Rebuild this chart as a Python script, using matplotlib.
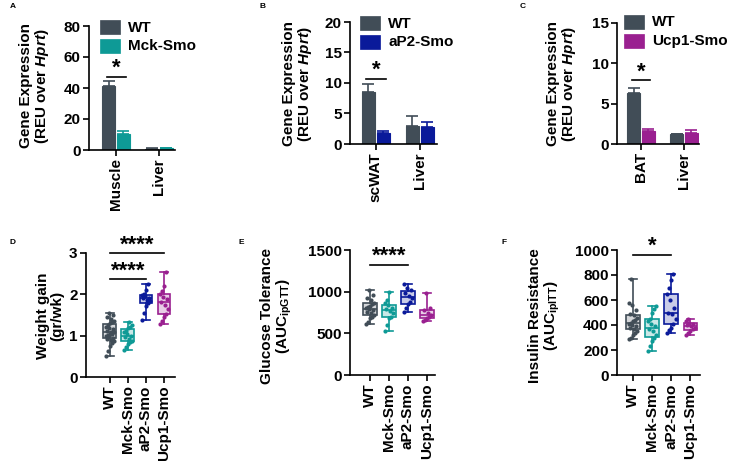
import matplotlib
matplotlib.use("Agg")
import matplotlib.pyplot as plt
from matplotlib.patches import Rectangle
import numpy as np

plt.rcParams['font.family'] = ['Liberation Sans', 'DejaVu Sans']
plt.rcParams['font.weight'] = 'bold'
plt.rcParams['mathtext.fontset'] = 'custom'
plt.rcParams['mathtext.rm'] = 'Liberation Sans:bold'
plt.rcParams['mathtext.it'] = 'Liberation Sans:italic:bold'
plt.rcParams['mathtext.bf'] = 'Liberation Sans:bold'

# ---------------- data ----------------
C_WT = '#414D57'
C_MCK = '#0E9A96'
C_AP2 = '#0A1A9A'
C_UCP = '#9A2090'

# Panel A
a_tissues = ['Muscle', 'Liver']
a_wt = [41.0, 0.8]
a_wt_err = [3.5, 0.5]
a_ko = [10.5, 1.0]
a_ko_err = [2.0, 0.4]
# Panel B
b_tissues = ['scWAT', 'Liver']
b_wt = [8.5, 3.0]
b_wt_err = [1.3, 1.6]
b_ko = [1.8, 2.8]
b_ko_err = [0.3, 0.8]
# Panel C
c_tissues = ['BAT', 'Liver']
c_wt = [6.3, 1.2]
c_wt_err = [0.7, 0.1]
c_ko = [1.6, 1.4]
c_ko_err = [0.2, 0.3]

groups = ['WT', 'Mck-Smo', 'aP2-Smo', 'Ucp1-Smo']
# Panel D: weight gain (gr/wk)
d_wt = [0.50, 0.62, 0.75, 0.82, 0.88, 0.90, 0.92, 0.95, 0.98, 1.00, 1.02, 1.05, 1.05, 1.08,
        1.10, 1.12, 1.15, 1.18, 1.22, 1.25, 1.30, 1.33, 1.35, 1.40, 1.45, 1.50, 1.55]
d_mck = [0.65, 0.72, 0.80, 0.85, 0.88, 0.92, 0.97, 1.00, 1.03, 1.08, 1.12, 1.18, 1.22, 1.27, 1.32]
d_ap2 = [1.37, 1.55, 1.72, 1.80, 1.83, 1.87, 1.90, 1.92, 1.95, 1.98, 2.02, 2.10, 2.25]
d_ucp = [1.28, 1.35, 1.45, 1.52, 1.65, 1.75, 1.82, 1.88, 1.93, 2.00, 2.08, 2.20, 2.55]
# Panel E: glucose tolerance AUC
e_wt = [610, 640, 680, 700, 720, 740, 760, 775, 790, 800, 815, 830, 850, 870, 900, 930, 960, 1020]
e_mck = [530, 600, 680, 700, 740, 770, 790, 810, 840, 860, 900, 1000]
e_ap2 = [760, 800, 850, 880, 920, 950, 990, 1020, 1050, 1090]
e_ucp = [650, 660, 680, 700, 720, 750, 780, 800, 990]
# Panel F: insulin resistance AUC
f_wt = [290, 300, 320, 335, 350, 370, 380, 390, 400, 410, 420, 430, 440, 460, 480, 490, 520,
        560, 580, 765]
f_mck = [195, 230, 270, 300, 320, 350, 370, 390, 410, 430, 450, 500, 530, 550]
f_ap2 = [340, 360, 380, 410, 450, 490, 500, 540, 600, 650, 700, 760, 805]
f_ucp = [320, 340, 355, 370, 380, 390, 400, 410, 420, 435, 445]

# ---------------- figure ----------------
W, H = 731, 461
fig = plt.figure(figsize=(W / 100, H / 100), dpi=100)
FS = 11


def add_ax(l, t, r, b):
    return fig.add_axes([l / W, 1 - b / H, (r - l) / W, (b - t) / H])


def style(ax):
    for s in ['top', 'right']:
        ax.spines[s].set_visible(False)
    for s in ['left', 'bottom']:
        ax.spines[s].set_linewidth(1.2)
    ax.tick_params(width=1.2, length=4, labelsize=FS, pad=2)
    for lab in ax.get_xticklabels() + ax.get_yticklabels():
        lab.set_fontweight('bold')


def ylabel(x, y, txt):
    fig.text(x / W, 1 - y / H, txt, rotation=90, ha='center', va='center',
             multialignment='center', fontsize=FS, fontweight='bold', linespacing=1.05)


def letter(x, y, t):
    fig.text(x / W, 1 - y / H, t, fontsize=6, fontweight='bold', ha='left', va='top')


def sig(ax, x1, x2, y, txt, dy):
    ax.plot([x1, x2], [y, y], color='black', lw=1.2, clip_on=False)
    ax.text((x1 + x2) / 2, y + dy, txt, ha='center', va='center', fontsize=16,
            fontweight='bold', clip_on=False)


def bar_panel(rect, xlim, ylim, yticks, tissues, wt, wte, ko, koe, kocolor, kolabel,
              leg_xy, star_y, star_dy):
    ax = add_ax(*rect)
    x = np.arange(len(tissues))
    off, bw = 0.17, 0.30
    ax.bar(x - off, wt, bw, color=C_WT, edgecolor=C_WT, lw=0.8, label='WT', zorder=2)
    ax.bar(x + off, ko, bw, color=kocolor, edgecolor=kocolor, lw=0.8, label=kolabel, zorder=2)
    ax.errorbar(x - off, wt, yerr=[np.zeros(len(wt)), wte], fmt='none', ecolor=C_WT,
                elinewidth=1.2, capsize=4, capthick=1.2, zorder=1)
    ax.errorbar(x + off, ko, yerr=[np.zeros(len(ko)), koe], fmt='none', ecolor=kocolor,
                elinewidth=1.2, capsize=4, capthick=1.2, zorder=1)
    ax.set_xlim(*xlim)
    ax.set_ylim(*ylim)
    ax.set_yticks(yticks)
    ax.set_xticks(x)
    ax.set_xticklabels(tissues, rotation=90)
    style(ax)
    # legend drawn in pixel space
    lx, ly = leg_xy
    for i, (c, lab) in enumerate([(C_WT, 'WT'), (kocolor, kolabel)]):
        top = ly + i * 19
        fig.patches.append(Rectangle((lx / W, 1 - (top + 14) / H), 20 / W, 14 / H,
                                     transform=fig.transFigure, facecolor=c,
                                     edgecolor=c, lw=0.5))
        fig.text((lx + 28) / W, 1 - (top + 7.5) / H, lab, fontsize=FS,
                 fontweight='bold', ha='left', va='center')
    sig(ax, 0 - off - 0.05, 0 + off + 0.05, star_y, '*', star_dy)
    return ax


bar_panel((89, 26, 175, 150), (-0.63, 1.37), (0, 80), [0, 20, 40, 60, 80],
          a_tissues, a_wt, a_wt_err, a_ko, a_ko_err, C_MCK, 'Mck-Smo', (100, 20), 47, 5.5)
bar_panel((350, 22, 437, 144), (-0.59, 1.39), (0, 20), [0, 5, 10, 15, 20],
          b_tissues, b_wt, b_wt_err, b_ko, b_ko_err, C_AP2, 'aP2-Smo', (360, 16), 10.7, 1.4)
bar_panel((617, 23, 699, 144), (-0.56, 1.35), (0, 15), [0, 5, 10, 15],
          c_tissues, c_wt, c_wt_err, c_ko, c_ko_err, C_UCP, 'Ucp1-Smo', (624, 15), 7.9, 1.05)

ylabel(35, 86, 'Gene Expression\n(REU over $\\mathit{Hprt}$)')
ylabel(298, 84, 'Gene Expression\n(REU over $\\mathit{Hprt}$)')
ylabel(562, 84, 'Gene Expression\n(REU over $\\mathit{Hprt}$)')

colors4 = [C_WT, C_MCK, C_AP2, C_UCP]
jit = [-0.22, -0.11, 0.0, 0.11, 0.22, 0.05, -0.16, 0.16, -0.05]


def box_panel(rect, xlim, ylim, yticks, data):
    ax = add_ax(*rect)
    for i, (vals, c) in enumerate(zip(data, colors4)):
        bp = ax.boxplot([vals], positions=[i], widths=0.72, whis=(0, 100),
                        patch_artist=True, showfliers=False, manage_ticks=False,
                        capwidths=0.4)
        for b in bp['boxes']:
            b.set_facecolor(matplotlib.colors.to_rgba(c, 0.22))
            b.set_edgecolor(c)
            b.set_linewidth(1.2)
        for k in ['whiskers', 'caps', 'medians']:
            for ln in bp[k]:
                ln.set_color(c)
                ln.set_linewidth(1.2)
        xs = [i + jit[j % len(jit)] for j in range(len(vals))]
        ax.scatter(xs, vals, s=9, color=c, zorder=3, linewidths=0)
    ax.set_xlim(*xlim)
    ax.set_ylim(*ylim)
    ax.set_yticks(yticks)
    ax.set_xticks(range(4))
    ax.set_xticklabels(groups, rotation=90)
    style(ax)
    return ax


axD = box_panel((86, 253, 175, 377), (-1.33, 3.61), (0, 3), [0, 1, 2, 3],
                [d_wt, d_mck, d_ap2, d_ucp])
sig(axD, 0, 3, 3.0, '****', 0.2)
sig(axD, 0, 2, 2.37, '****', 0.2)
axE = box_panel((350, 250, 435, 375), (-1.05, 3.42), (0, 1500), [0, 500, 1000, 1500],
                [e_wt, e_mck, e_ap2, e_ucp])
sig(axE, 0, 2, 1320, '****', 100)
axF = box_panel((617, 250, 700, 375), (-0.84, 3.5), (0, 1000),
                [0, 200, 400, 600, 800, 1000], [f_wt, f_mck, f_ap2, f_ucp])
sig(axF, 0, 2, 960, '*', 70)

ylabel(50, 316, 'Weight gain\n(gr/wk)')
ylabel(277, 316, 'Glucose Tolerance\n(AUC$_{\\mathrm{ipGTT}}$)')
ylabel(545, 316, 'Insulin Resistance\n(AUC$_{\\mathrm{ipITT}}$)')

letter(10, 3, 'A')
letter(260, 3, 'B')
letter(520, 3, 'C')
letter(10, 239, 'D')
letter(238, 239, 'E')
letter(502, 239, 'F')

fig.savefig('out.png', dpi=100)
